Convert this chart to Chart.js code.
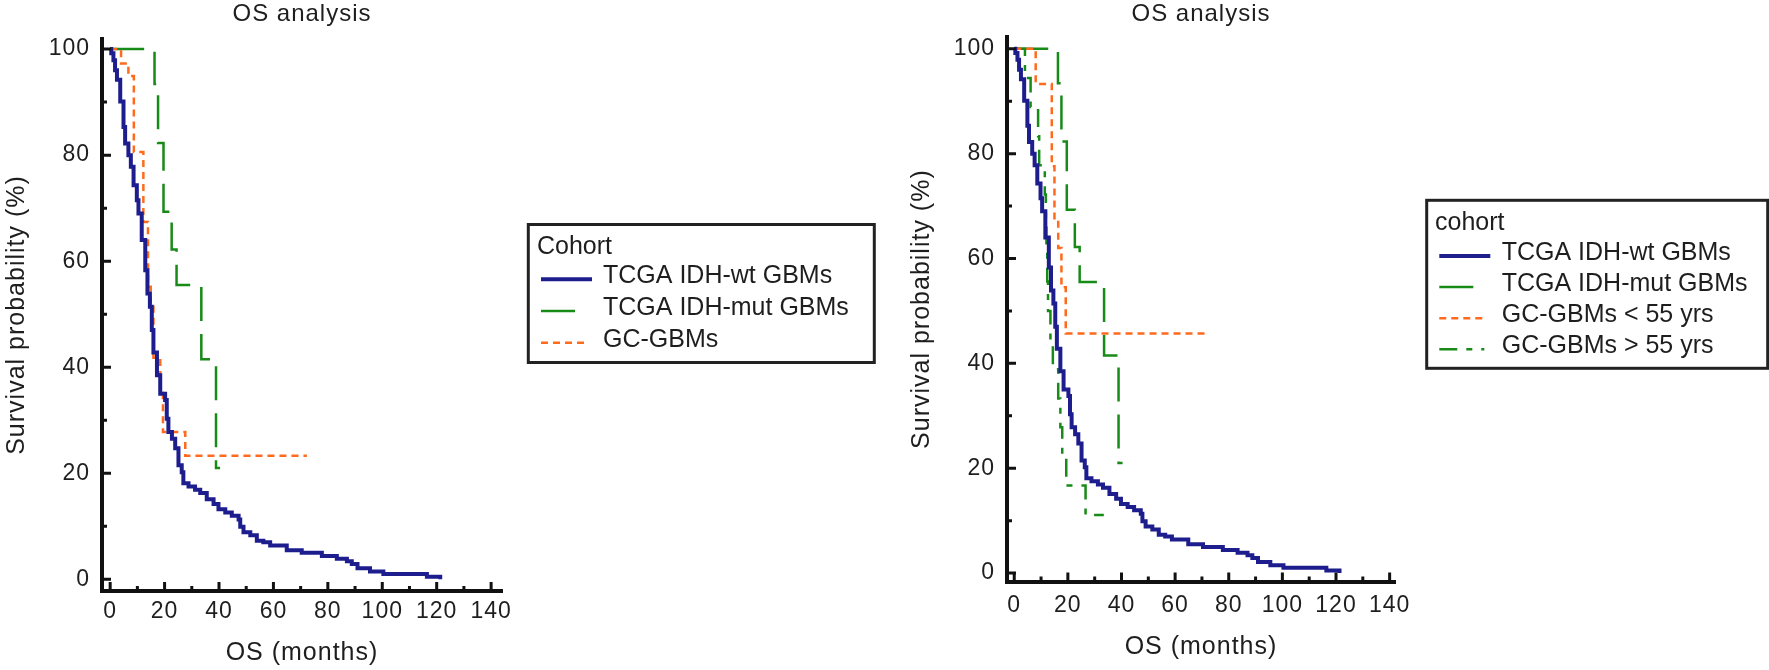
<!DOCTYPE html>
<html>
<head>
<meta charset="utf-8">
<title>OS analysis</title>
<script src="https://cdn.jsdelivr.net/npm/chart.js@4.4.1/dist/chart.umd.min.js"></script>
<style>
  html, body { margin: 0; padding: 0; background: #fff; }
  #wrap { position: relative; width: 1769px; height: 670px; overflow: hidden; background: #fff; }
  canvas { position: absolute; top: 0; }
  #chartA { left: 0; }
  #chartB { left: 905px; }
</style>
</head>
<body>
<div id="wrap">
  <canvas id="chartA" width="905" height="670"></canvas>
  <canvas id="chartB" width="864" height="670"></canvas>
</div>
<script>
// Kaplan-Meier curves.
// Each pair of arrays = drop points: at time t (months) the curve falls to s (%).

// TCGA IDH-wt GBMs (same cohort in both panels)
const wtTimes = [0, 0.4, 1.2, 1.8, 2.5, 3.7, 4.9, 5.5, 6.7, 7.6, 8.6, 9.8, 10.4, 11.6, 12.9,
  13.7, 14.6, 15.3, 15.9, 17.2, 18.4, 20.2, 20.8, 21.4, 22.7, 23.9, 25.1, 26.3, 26.9, 28.8,
  31.2, 33.1, 35.5, 38.0, 39.8, 42.3, 44.7, 47.2, 47.8, 49.0, 51.5, 53.9, 56.3, 58.8, 64.9,
  70.4, 77.8, 83.3, 87.0, 88.8, 90.9, 95.5, 100.4, 116.4, 121.3];
const wtSurv = [100, 99.2, 97.9, 96.0, 94.2, 90.1, 85.3, 82.2, 80.0, 77.8, 74.3, 71.5, 69.0, 64.0, 58.3,
  53.9, 51.4, 47.0, 42.8, 38.5, 35.0, 33.8, 30.3, 27.8, 26.5, 24.7, 21.5, 20.2, 18.1, 17.5,
  16.9, 16.3, 15.1, 14.2, 13.2, 12.6, 12.0, 11.3, 9.9, 8.9, 8.3, 7.3, 7.0, 6.4, 5.5,
  5.0, 4.4, 3.9, 3.4, 2.9, 2.1, 1.5, 1.0, 0.5, 0];

// TCGA IDH-mut GBMs
const mutTimes = [0, 16.3, 17.6, 19.6, 22.6, 24.4, 33.5, 38.9];
const mutSurv = [100, 93.4, 82.3, 69.3, 62.2, 55.5, 41.5, 21.0];
const mutLast = 40.4;

// GC-GBMs (left panel)
const gcTimes = [0, 4.0, 6.7, 8.7, 12.2, 13.9, 14.9, 15.9, 18.4, 19.4, 27.6];
const gcSurv = [100, 97.3, 94.9, 80.6, 67.4, 55.2, 51.4, 41.8, 35.2, 27.8, 23.3];
const gcLast = 72.3;

// GC-GBMs < 55 yrs (right panel)
const youngTimes = [0, 8.0, 14.0, 15.0, 16.4, 17.6, 19.2];
const youngSurv = [100, 93.3, 77.6, 67.3, 62.0, 54.5, 45.7];
const youngLast = 71.4;

// GC-GBMs > 55 yrs (right panel)
const oldTimes = [0, 4.0, 6.1, 8.9, 9.3, 11.4, 11.8, 12.0, 12.3, 12.6, 13.5, 14.4, 16.4, 17.2, 17.9, 19.4, 26.6];
const oldSurv = [100, 94.4, 88.9, 83.3, 77.8, 72.2, 66.7, 61.1, 55.6, 50.0, 44.4, 38.9, 33.3, 27.8, 22.2, 16.7, 11.1];
const oldLast = 33.4;

// axis ticks
const xTickValues = [0, 10, 20, 30, 40, 50, 60, 70, 80, 90, 100, 110, 120, 130, 140];
const yTickValues = [0, 10, 20, 30, 40, 50, 60, 70, 80, 90, 100];

const FONT = '"Liberation Sans", Arial, Helvetica, sans-serif';
const TEXT = '#1e1e1e';
const AXIS = '#111111';

// turn drop points into {x,y}; optional last follow-up time keeps the final level
function kmPoints(times, surv, lastTime) {
  const pts = times.map((t, i) => ({ x: t, y: surv[i] }));
  if (lastTime !== undefined) pts.push({ x: lastTime, y: surv[surv.length - 1] });
  return pts;
}

function series(label, points, style, order) {
  return Object.assign({ label: label, data: points, stepped: true, fill: false, order: order }, style);
}

const WT_STYLE = { borderColor: '#1d1d8e', borderWidth: 4, borderDash: [] };
const MUT_STYLE = { borderColor: '#178a17', borderWidth: 2.5, borderDash: [34, 13] };
const GC_STYLE = { borderColor: '#ff6a1c', borderWidth: 2.5, borderDash: [7, 5] };
const OLD_STYLE = { borderColor: '#178a17', borderWidth: 2.5, borderDash: [18, 9, 6, 9] };

// ticks that point into the plot, long on labelled values
const innerTicks = {
  id: 'innerTicks',
  afterDraw(chart) {
    const { ctx, chartArea: a, scales: { x, y } } = chart;
    ctx.save();
    ctx.strokeStyle = AXIS;
    ctx.lineWidth = 3;
    ctx.beginPath();
    x.ticks.forEach(t => {
      const px = x.getPixelForValue(t.value);
      const len = t.value % 20 === 0 ? 9 : 5;
      ctx.moveTo(px, a.bottom);
      ctx.lineTo(px, a.bottom - len);
    });
    y.ticks.forEach(t => {
      const py = y.getPixelForValue(t.value);
      const len = t.value % 20 === 0 ? 9 : 5;
      ctx.moveTo(a.left, py);
      ctx.lineTo(a.left + len, py);
    });
    ctx.stroke();
    ctx.restore();
  }
};

// slightly wider glyph spacing like the original export
const textSpacing = {
  id: 'textSpacing',
  beforeDraw(chart) {
    chart.ctx.letterSpacing = '1px';
  }
};

// boxed legend with a title, drawn from the datasets
const kmLegend = {
  id: 'kmLegend',
  afterDraw(chart, args, opts) {
    const ctx = chart.ctx;
    ctx.save();
    ctx.letterSpacing = '0px';
    ctx.strokeStyle = '#222';
    ctx.lineWidth = 3;
    ctx.setLineDash([]);
    ctx.strokeRect(opts.box[0], opts.box[1], opts.box[2], opts.box[3]);

    ctx.fillStyle = TEXT;
    ctx.font = '25px ' + FONT;
    ctx.textBaseline = 'alphabetic';
    ctx.textAlign = 'left';
    ctx.fillText(opts.title, opts.titleX, opts.titleY);

    chart.data.datasets.forEach((ds, i) => {
      const base = opts.rowY + i * opts.rowGap;
      const len = ds.borderDash.length ? 45 : 51;
      ctx.strokeStyle = ds.borderColor;
      ctx.lineWidth = ds.borderWidth;
      ctx.setLineDash(ds.borderDash);
      ctx.beginPath();
      ctx.moveTo(opts.sampleX, base - 4);
      ctx.lineTo(opts.sampleX + len, base - 4);
      ctx.stroke();
      ctx.fillText(ds.label, opts.textX, base);
    });
    ctx.restore();
  }
};

function buildChart(canvasId, datasets, cfg) {
  return new Chart(document.getElementById(canvasId), {
    type: 'line',
    data: { datasets: datasets },
    options: {
      responsive: false,
      animation: false,
      events: [],
      layout: { padding: { left: 0, right: cfg.padRight, top: 0, bottom: 0 } },
      elements: { point: { radius: 0 }, line: { tension: 0 } },
      plugins: {
        legend: { display: false },
        tooltip: { enabled: false },
        title: {
          display: true,
          text: 'OS analysis',
          fullSize: false,
          color: TEXT,
          font: { family: FONT, size: 24, weight: 'normal', lineHeight: 1.2 },
          padding: { top: 0, bottom: cfg.titleGap }
        },
        kmLegend: cfg.legend
      },
      scales: {
        x: {
          type: 'linear',
          min: cfg.xMin,
          max: cfg.xMax,
          grid: { display: false, drawTicks: false },
          border: { display: true, width: 4, color: AXIS },
          afterBuildTicks: s => { s.ticks = xTickValues.map(v => ({ value: v })); },
          afterFit: s => { s.height = cfg.xHeight; },
          ticks: {
            autoSkip: false,
            maxRotation: 0,
            padding: cfg.xTickPad,
            color: TEXT,
            font: { family: FONT, size: 23 },
            callback: v => (v % 20 === 0 ? String(v) : '')
          },
          title: {
            display: true,
            text: 'OS (months)',
            color: TEXT,
            font: { family: FONT, size: 25, lineHeight: 1.2 },
            padding: { top: 0, bottom: cfg.xTitlePad }
          }
        },
        y: {
          type: 'linear',
          min: cfg.yMin,
          max: cfg.yMax,
          grid: { display: false, drawTicks: false },
          border: { display: true, width: 4, color: AXIS },
          afterBuildTicks: s => { s.ticks = yTickValues.map(v => ({ value: v })); },
          afterFit: s => { s.width = 102; },
          ticks: {
            autoSkip: false,
            padding: 12,
            color: TEXT,
            font: { family: FONT, size: 23 },
            callback: v => (v % 20 === 0 ? String(v) : '')
          },
          title: {
            display: true,
            text: 'Survival probability (%)',
            color: TEXT,
            font: { family: FONT, size: 25, lineHeight: 1.2 },
            padding: { top: cfg.yTitlePad, bottom: 0 }
          }
        }
      }
    },
    plugins: [textSpacing, innerTicks, kmLegend]
  });
}

// left panel
buildChart('chartA', [
  series('TCGA IDH-wt GBMs', kmPoints(wtTimes, wtSurv), WT_STYLE, 0),
  series('TCGA IDH-mut GBMs', kmPoints(mutTimes, mutSurv, mutLast), MUT_STYLE, 2),
  series('GC-GBMs', kmPoints(gcTimes, gcSurv, gcLast), GC_STYLE, 1)
], {
  xMin: -3, xMax: 144, yMin: -2.2, yMax: 101.9,
  padRight: 403, titleGap: 10.2, xHeight: 79,
  xTickPad: 7, xTitlePad: 2, yTitlePad: 2.5,
  legend: {
    title: 'Cohort', box: [528.3, 224.5, 346, 138],
    titleX: 537, titleY: 254, rowY: 283.3, rowGap: 31.7,
    sampleX: 541, textX: 603
  }
});

// right panel
buildChart('chartB', [
  series('TCGA IDH-wt GBMs', kmPoints(wtTimes, wtSurv), WT_STYLE, 0),
  series('TCGA IDH-mut GBMs', kmPoints(mutTimes, mutSurv, mutLast), MUT_STYLE, 3),
  series('GC-GBMs < 55 yrs', kmPoints(youngTimes, youngSurv, youngLast), GC_STYLE, 1),
  series('GC-GBMs > 55 yrs', kmPoints(oldTimes, oldSurv, oldLast), OLD_STYLE, 2)
], {
  xMin: -2.7, xMax: 142, yMin: -1.6, yMax: 102.3,
  padRight: 374, titleGap: 7.9, xHeight: 88.5,
  xTickPad: 10, xTitlePad: 8, yTitlePad: 2,
  legend: {
    title: 'cohort', box: [521.7, 200.3, 341, 168],
    titleX: 530, titleY: 230, rowY: 260, rowGap: 31.1,
    sampleX: 534.3, textX: 596.7
  }
});
</script>
</body>
</html>
